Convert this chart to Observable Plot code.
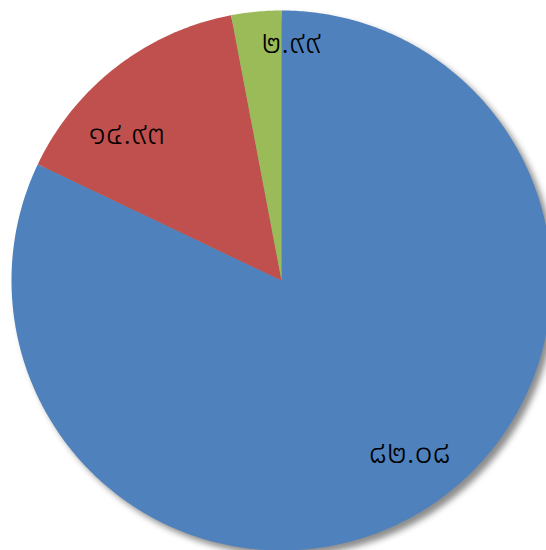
<!DOCTYPE html>
<html>
<head>
<meta charset="utf-8">
<script src="https://cdn.jsdelivr.net/npm/d3@7"></script>
<script src="https://cdn.jsdelivr.net/npm/@observablehq/plot@0.6"></script>
<style>
  html, body { margin: 0; padding: 0; background: #fff; }
  #chart svg { display: block; }
  #chart g[aria-label="line"] { filter: drop-shadow(5px 5px 3px rgba(0,0,0,0.45)); }
</style>
</head>
<body>
<div id="chart"></div>
<script>
// Data
const categories = ["A", "B", "C"];
const values = [82.08, 14.93, 2.99];
const labels = ["๘๒.๐๘", "๑๔.๙๓", "๒.๙๙"];
const colors = ["#4F81BD", "#C0504D", "#9BBB59"];

// Layout (pixels)
const W = 546, H = 550, CX = 281, CY = 280, R = 270;
const labelNudge = [[13, -10], [-23, 24], [30, -23]]; // px tweaks for label placement

const total = d3.sum(values);
let acc = 0;
const slices = values.map((v, i) => {
  const a0 = acc / total * 2 * Math.PI;
  acc += v;
  const a1 = acc / total * 2 * Math.PI;
  return {cat: categories[i], value: v, label: labels[i], a0, a1};
});

// polygon points for each slice (angle clockwise from 12 o'clock)
const pts = [];
for (const s of slices) {
  pts.push({cat: s.cat, x: 0, y: 0});
  const n = Math.max(2, Math.ceil((s.a1 - s.a0) / (Math.PI / 360)));
  for (let k = 0; k <= n; k++) {
    const a = s.a0 + (s.a1 - s.a0) * k / n;
    pts.push({cat: s.cat, x: Math.sin(a), y: Math.cos(a)});
  }
}

const labelPts = slices.map((s, i) => {
  const a = (s.a0 + s.a1) / 2;
  return {
    label: s.label,
    x: 0.8 * Math.sin(a) + labelNudge[i][0] / R,
    y: 0.8 * Math.cos(a) - labelNudge[i][1] / R
  };
});

const plot = Plot.plot({
  width: W, height: H,
  margin: 0,
  x: {domain: [-CX / R, (W - CX) / R], axis: null},
  y: {domain: [-(H - CY) / R, CY / R], axis: null},
  color: {domain: categories, range: colors},
  style: {background: "#fff"},
  marks: [
    Plot.line(pts, {x: "x", y: "y", z: "cat", fill: "cat", stroke: "none", curve: "linear-closed"}),
    Plot.text(labelPts, {
      x: "x", y: "y", text: "label",
      fontSize: 32, fill: "#000", fontWeight: 300,
      fontFamily: "'Noto Sans Thai', 'Noto Serif Thai', 'Tlwg Typo', 'Garuda', 'Loma', sans-serif"
    })
  ]
});
document.getElementById("chart").appendChild(plot);
</script>
</body>
</html>
